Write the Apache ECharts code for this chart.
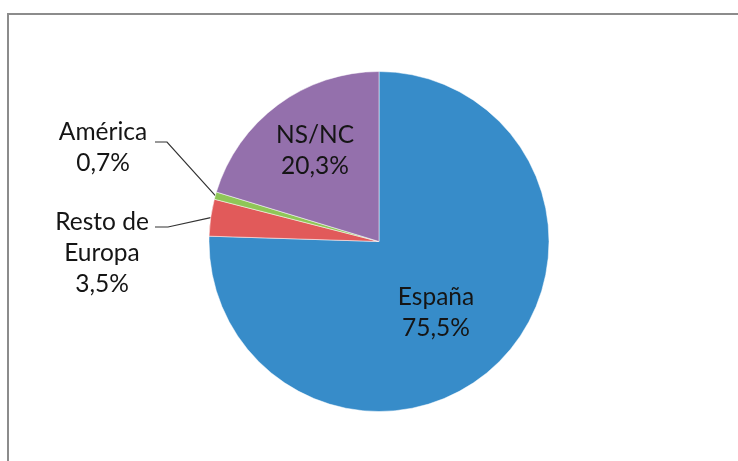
<!DOCTYPE html>
<html>
<head>
<meta charset="utf-8">
<script src="https://cdn.jsdelivr.net/npm/echarts@6/dist/echarts.min.js"></script>
<style>html,body{margin:0;padding:0;background:#fff;}#c{width:738px;height:461px;}</style>
</head>
<body>
<div id="c"></div>
<script>
const categories = ['España', 'Resto de\nEuropa', 'América', 'NS/NC'];
const values = [75.5, 3.5, 0.7, 20.3];
const colors = ['#378CC9', '#E15A5A', '#8FC657', '#9470AC'];

// label anchor placement (layout only)
const labelPos = [
  { x: 436, y: 313 },
  { x: 102, y: 253, kink: [168, 227], end: [155, 227] },
  { x: 103, y: 148, kink: [167, 142], end: [155, 142] },
  { x: 315, y: 151 }
];
const outside = [false, true, true, false];

const chart = echarts.init(document.getElementById('c'));
const fmt = v => v.toFixed(1).replace('.', ',') + '%';

chart.setOption({
  animation: false,
  graphic: [{
    type: 'rect',
    shape: { x: 8, y: 14, width: 800, height: 500 },
    style: { fill: 'none', stroke: '#8c8c8c', lineWidth: 2 },
    z: -1
  }],
  series: [{
    type: 'pie',
    center: [379, 241.5],
    radius: [0, 170],
    startAngle: 90,
    clockwise: true,
    avoidLabelOverlap: false,
    itemStyle: { borderColor: '#ffffff', borderWidth: 0.5 },
    label: {
      fontFamily: 'Lato',
      fontSize: 24.5,
      lineHeight: 31,
      color: '#151515',
      align: 'center'
    },
    labelLine: {
      show: true,
      lineStyle: { color: '#333333', width: 1.2 }
    },
    data: categories.map((c, i) => ({
      name: c,
      value: values[i],
      itemStyle: { color: colors[i] },
      label: {
        position: outside[i] ? 'outside' : 'inside',
        formatter: c + '\n' + fmt(values[i])
      },
      labelLine: { show: outside[i] }
    })),
    labelLayout: function (p) {
      const lp = labelPos[p.dataIndex];
      const out = { x: lp.x, y: lp.y, align: 'center', verticalAlign: 'middle' };
      if (lp.kink && p.labelLinePoints) {
        out.labelLinePoints = [p.labelLinePoints[0], lp.kink, lp.end];
      }
      return out;
    }
  }]
});
</script>
</body>
</html>
